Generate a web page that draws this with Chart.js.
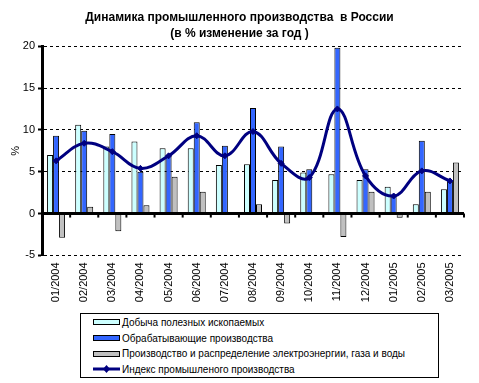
<!DOCTYPE html>
<html>
<head>
<meta charset="utf-8">
<script src="https://cdn.jsdelivr.net/npm/chart.js@4/dist/chart.umd.min.js"></script>
<style>
  html, body { margin: 0; padding: 0; background: #fff; }
  #wrap { position: relative; width: 479px; height: 383px; }
  #legend {
    position: absolute; left: 80px; top: 313px; width: 357px; height: 63px;
    border: 1px solid #000; background: #fff;
    font: 10px "Liberation Sans", Arial, sans-serif; color: #000;
  }
  .row { position: absolute; left: 12px; height: 14px; line-height: 14px; white-space: nowrap; }
  .sw { display: inline-block; width: 25px; height: 4px; border: 1px solid #000; vertical-align: middle; margin-right: 2px; position: relative; top: -1px; }
  .ln { display: inline-block; width: 27px; height: 14px; vertical-align: middle; margin-right: 2px; position: relative; top: -1px; }
</style>
</head>
<body>
<div id="wrap">
  <canvas id="chart" width="479" height="383"></canvas>
  <div id="legend"></div>
</div>
<script>
  const months = ["01/2004", "02/2004", "03/2004", "04/2004", "05/2004", "06/2004", "07/2004", "08/2004",
                  "09/2004", "10/2004", "11/2004", "12/2004", "01/2005", "02/2005", "03/2005"];
  const mining = [7.0, 10.6, 8.0, 8.6, 7.8, 7.8, 5.8, 5.9, 4.0, 4.9, 4.7, 4.0, 3.2, 1.1, 2.9];
  const manufacturing = [9.3, 9.9, 9.5, 5.0, 7.0, 10.9, 8.1, 12.6, 8.0, 5.3, 19.8, 5.3, 2.1, 8.7, 3.9];
  const utilities = [-2.9, 0.8, -2.1, 1.0, 4.4, 2.6, 0, 1.1, -1.2, 0.2, -2.8, 2.6, -0.5, 2.6, 6.1];
  const indexTotal = [6.3, 8.4, 7.4, 5.4, 6.9, 9.3, 6.9, 9.8, 6.0, 4.3, 12.5, 4.5, 2.1, 5.1, 3.9];
  const yTicks = [-5, 0, 5, 10, 15, 20];

  const seriesNames = [
    "Добыча полезных ископаемых",
    "Обрабатывающие производства",
    "Производство и распределение электроэнергии, газа и воды",
    "Индекс промышленого производства"
  ];
  const colors = ["#CCFFFF", "#3366FF", "#C0C0C0", "#000080"];

  const FONT = "'Liberation Sans', Arial, sans-serif";

  // solid zero line with little category ticks under it
  const zeroAxis = {
    id: "zeroAxis",
    afterDatasetsDraw(chart) {
      const { ctx, chartArea, scales } = chart;
      const y0 = scales.y.getPixelForValue(0);
      const n = months.length;
      ctx.save();
      ctx.strokeStyle = "#000";
      ctx.lineWidth = 3;
      ctx.beginPath();
      ctx.moveTo(chartArea.left, y0);
      ctx.lineTo(chartArea.right, y0);
      ctx.stroke();
      ctx.lineWidth = 2;
      for (let i = 1; i <= n; i++) {
        const px = chartArea.left + (chartArea.right - chartArea.left) * i / n;
        ctx.beginPath();
        ctx.moveTo(px, y0);
        ctx.lineTo(px, y0 + 4);
        ctx.stroke();
      }
      ctx.restore();
    }
  };

  const barDs = (i, data) => ({
    type: "bar",
    label: seriesNames[i],
    data,
    backgroundColor: colors[i],
    borderColor: "#000",
    borderWidth: 1,
    barPercentage: 1.0,
    categoryPercentage: 0.64,
    order: 1
  });

  new Chart(document.getElementById("chart"), {
    data: {
      labels: months,
      datasets: [
        {
          type: "line",
          label: seriesNames[3],
          data: indexTotal,
          borderColor: colors[3],
          backgroundColor: colors[3],
          borderWidth: 3,
          tension: 0.4,
          pointStyle: "rectRot",
          pointRadius: 3,
          pointBorderWidth: 1,
          order: 0
        },
        barDs(0, mining),
        barDs(1, manufacturing),
        barDs(2, utilities)
      ]
    },
    options: {
      responsive: false,
      animation: false,
      layout: { padding: { left: 15, right: 15, top: 0, bottom: 0 } },
      plugins: {
        legend: { display: false },
        tooltip: { enabled: false },
        title: {
          display: true,
          text: ["Динамика промышленного производства  в России", "(в % изменение за год )"],
          color: "#000",
          font: { family: FONT, size: 12, weight: "bold", lineHeight: 1.3 },
          padding: { top: 10, bottom: 5 }
        }
      },
      scales: {
        x: {
          grid: { display: false, drawTicks: false },
          border: { display: false },
          ticks: {
            color: "#000",
            font: { family: FONT, size: 11 },
            minRotation: 90,
            maxRotation: 90,
            padding: 7,
            autoSkip: false
          },
          afterFit(scale) { scale.height = 127.6; }
        },
        y: {
          min: -5,
          max: 20,
          afterBuildTicks(scale) { scale.ticks = yTicks.map(v => ({ value: v })); },
          grid: {
            color: (c) => (c.tick && c.tick.value === 0 ? "rgba(0,0,0,0)" : "#000"),
            lineWidth: 1,
            tickColor: "#000",
            tickLength: 4,
            tickWidth: 2
          },
          border: { display: true, color: "#000", width: 3, dash: [3, 3] },
          ticks: {
            color: "#000",
            font: { family: FONT, size: 11 },
            padding: 3
          },
          title: {
            display: true,
            text: "%",
            color: "#000",
            font: { family: FONT, size: 11 },
            padding: { top: -6, bottom: 0 }
          },
          afterFit(scale) { scale.width = 27; }
        }
      }
    },
    plugins: [zeroAxis]
  });

  // legend box, drawn in html like the original
  const legend = document.getElementById("legend");
  seriesNames.forEach((name, i) => {
    const row = document.createElement("div");
    row.className = "row";
    row.style.top = (2 + i * 15.7) + "px";
    if (i < 3) {
      row.innerHTML = `<span class="sw" style="background:${colors[i]}"></span>${name}`;
    } else {
      row.innerHTML = `<svg class="ln" viewBox="0 0 27 14"><line x1="0" y1="7" x2="27" y2="7" stroke="${colors[3]}" stroke-width="3"/><path d="M13.5 3 L17 7 L13.5 11 L10 7 Z" fill="${colors[3]}"/></svg>${name}`;
    }
    legend.appendChild(row);
  });
</script>
</body>
</html>
